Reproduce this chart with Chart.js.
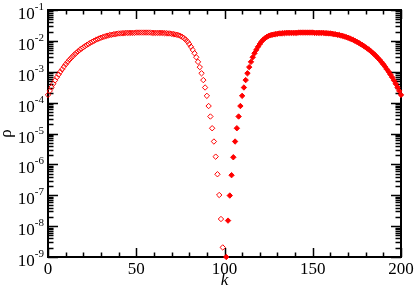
<!DOCTYPE html>
<html>
<head>
<meta charset="utf-8">
<script src="https://cdn.jsdelivr.net/npm/chart.js@4"></script>
<style>
html,body{margin:0;padding:0;background:#fff;}
#wrap{width:415px;height:290px;position:relative;}
</style>
</head>
<body>
<div id="wrap"><canvas id="c" width="415" height="290"></canvas></div>
<script>
// k indices for the two series
const kOpen = [];
for (let i = 0; i <= 99; i++) kOpen.push(i);
const kFilled = [];
for (let i = 101; i <= 200; i++) kFilled.push(i);

// rho values (open diamonds, k = 0..99)
const rhoOpen = [
  1.78e-4, 2.40e-4, 3.16e-4, 4.07e-4, 5.25e-4, 6.61e-4, 8.13e-4, 1.00e-3, 1.20e-3, 1.45e-3,
  1.74e-3, 2.04e-3, 2.40e-3, 2.75e-3, 3.16e-3, 3.63e-3, 4.07e-3, 4.57e-3, 5.13e-3, 5.62e-3,
  6.17e-3, 6.76e-3, 7.41e-3, 7.94e-3, 8.71e-3, 9.33e-3, 1.00e-2, 1.07e-2, 1.12e-2, 1.20e-2,
  1.26e-2, 1.32e-2, 1.38e-2, 1.45e-2, 1.48e-2, 1.55e-2, 1.58e-2, 1.62e-2, 1.66e-2, 1.70e-2,
  1.74e-2, 1.74e-2, 1.78e-2, 1.78e-2, 1.82e-2, 1.82e-2, 1.82e-2, 1.82e-2, 1.82e-2, 1.82e-2,
  1.86e-2, 1.86e-2, 1.86e-2, 1.86e-2, 1.86e-2, 1.86e-2, 1.86e-2, 1.86e-2, 1.86e-2, 1.82e-2,
  1.82e-2, 1.82e-2, 1.82e-2, 1.82e-2, 1.82e-2, 1.82e-2, 1.78e-2, 1.78e-2, 1.74e-2, 1.74e-2,
  1.70e-2, 1.66e-2, 1.62e-2, 1.58e-2, 1.51e-2, 1.45e-2, 1.35e-2, 1.23e-2, 1.10e-2, 9.55e-3,
  7.94e-3, 6.46e-3, 5.13e-3, 3.98e-3, 2.95e-3, 2.09e-3, 1.41e-3, 8.91e-4, 5.37e-4, 3.09e-4,
  1.66e-4, 7.76e-5, 3.55e-5, 1.48e-5, 5.50e-6, 1.78e-6, 4.79e-7, 1.02e-7, 1.70e-8, 2.04e-9
];

// rho values (filled diamonds, k = 101..200)
const rhoFilled = [
  1.00e-9, 1.51e-8, 9.77e-8, 4.47e-7, 1.70e-6, 5.50e-6, 1.48e-5, 3.55e-5, 7.76e-5, 1.66e-4,
  3.09e-4, 5.37e-4, 8.91e-4, 1.41e-3, 2.09e-3, 2.95e-3, 3.98e-3, 5.13e-3, 6.46e-3, 7.94e-3,
  9.55e-3, 1.10e-2, 1.23e-2, 1.35e-2, 1.45e-2, 1.51e-2, 1.58e-2, 1.62e-2, 1.66e-2, 1.70e-2,
  1.74e-2, 1.74e-2, 1.78e-2, 1.78e-2, 1.82e-2, 1.82e-2, 1.82e-2, 1.82e-2, 1.82e-2, 1.82e-2,
  1.82e-2, 1.86e-2, 1.86e-2, 1.86e-2, 1.86e-2, 1.86e-2, 1.86e-2, 1.86e-2, 1.86e-2, 1.86e-2,
  1.82e-2, 1.82e-2, 1.82e-2, 1.82e-2, 1.82e-2, 1.82e-2, 1.78e-2, 1.78e-2, 1.74e-2, 1.74e-2,
  1.70e-2, 1.66e-2, 1.62e-2, 1.58e-2, 1.55e-2, 1.48e-2, 1.45e-2, 1.38e-2, 1.32e-2, 1.26e-2,
  1.20e-2, 1.12e-2, 1.07e-2, 1.00e-2, 9.33e-3, 8.71e-3, 7.94e-3, 7.41e-3, 6.76e-3, 6.17e-3,
  5.62e-3, 5.13e-3, 4.57e-3, 4.07e-3, 3.63e-3, 3.16e-3, 2.75e-3, 2.40e-3, 2.04e-3, 1.74e-3,
  1.45e-3, 1.20e-3, 1.00e-3, 8.13e-4, 6.61e-4, 5.25e-4, 4.07e-4, 3.16e-4, 2.40e-4, 1.78e-4
];

// tick labels
const xTickLabels = ['0', '50', '100', '150', '200'];
const xTickValues = [0, 50, 100, 150, 200];
const yExponents = ['-9', '-8', '-7', '-6', '-5', '-4', '-3', '-2', '-1'];
const xTitle = 'k';
const yTitle = 'ρ';

const openPts = kOpen.map((k, i) => ({x: k, y: rhoOpen[i]}));
const filledPts = kFilled.map((k, i) => ({x: k, y: rhoFilled[i]}));

const SERIF = '"Liberation Serif", "DejaVu Serif", serif';

const gracePlugin = {
  id: 'grace',
  beforeDatasetsDraw(chart) {
    const {ctx, chartArea: a, scales} = chart;
    const xs = scales.x, ys = scales.y;
    ctx.save();
    ctx.strokeStyle = '#000';
    ctx.lineCap = 'butt';
    // x ticks
    ctx.lineWidth = 1.5;
    for (let v = 0; v <= 200; v += 10) {
      const px = Math.round(xs.getPixelForValue(v)) + 0.5;
      const len = (v % 50 === 0) ? 9 : 4.5;
      ctx.beginPath();
      ctx.moveTo(px, a.bottom); ctx.lineTo(px, a.bottom - len);
      ctx.moveTo(px, a.top); ctx.lineTo(px, a.top + len);
      ctx.stroke();
    }
    // y ticks
    for (let e = -9; e <= -1; e++) {
      for (let m = 1; m <= 9; m++) {
        const val = m * Math.pow(10, e);
        if (val > 0.1 + 1e-12) continue;
        const py = Math.round(ys.getPixelForValue(val)) + 0.5;
        const len = (m === 1) ? 10 : 5.5;
        ctx.beginPath();
        ctx.moveTo(a.left, py); ctx.lineTo(a.left + len, py);
        ctx.moveTo(a.right, py); ctx.lineTo(a.right - len, py);
        ctx.stroke();
      }
    }
    // frame
    ctx.lineWidth = 2;
    ctx.strokeRect(a.left, a.top, a.right - a.left, a.bottom - a.top);

    // x tick labels
    ctx.fillStyle = '#000';
    ctx.font = '17px ' + SERIF;
    ctx.textAlign = 'center';
    ctx.textBaseline = 'alphabetic';
    xTickValues.forEach((v, i) => {
      ctx.fillText(xTickLabels[i], xs.getPixelForValue(v), a.bottom + 17);
    });
    // y tick labels
    yExponents.forEach((ex) => {
      const val = Math.pow(10, parseInt(ex, 10));
      const py = ys.getPixelForValue(val);
      ctx.font = '11px ' + SERIF;
      const wE = ctx.measureText(ex).width;
      ctx.textAlign = 'left';
      ctx.fillText(ex, 44 - wE, py);
      ctx.font = '17px ' + SERIF;
      ctx.textAlign = 'right';
      ctx.fillText('10', 44 - wE, py + 9);
    });
    // axis titles
    ctx.font = 'italic 17px ' + SERIF;
    ctx.textAlign = 'center';
    ctx.fillText(xTitle, (a.left + a.right) / 2, 285);
    ctx.save();
    ctx.translate(11, (a.top + a.bottom) / 2);
    ctx.rotate(-Math.PI / 2);
    ctx.font = '17px ' + SERIF;
    ctx.fillText(yTitle, 0, 0);
    ctx.restore();
    ctx.restore();
  }
};

new Chart(document.getElementById('c'), {
  type: 'scatter',
  data: {
    datasets: [
      {
        data: openPts,
        pointStyle: 'rectRot',
        pointRadius: 2.7,
        pointBorderWidth: 1,
        borderColor: '#ff0000',
        backgroundColor: 'rgba(255,255,255,0)',
        showLine: false,
        clip: false
      },
      {
        data: filledPts,
        pointStyle: 'rectRot',
        pointRadius: 2.7,
        pointBorderWidth: 1,
        borderColor: '#ff0000',
        backgroundColor: '#ff0000',
        showLine: false,
        clip: false
      }
    ]
  },
  options: {
    responsive: false,
    animation: false,
    devicePixelRatio: 1,
    layout: {padding: {left: 48, right: 14, top: 10, bottom: 33}},
    plugins: {legend: {display: false}, tooltip: {enabled: false}},
    scales: {
      x: {type: 'linear', min: 0, max: 200, display: false},
      y: {type: 'logarithmic', min: 1e-9, max: 1e-1, display: false}
    }
  },
  plugins: [gracePlugin]
});
</script>
</body>
</html>
